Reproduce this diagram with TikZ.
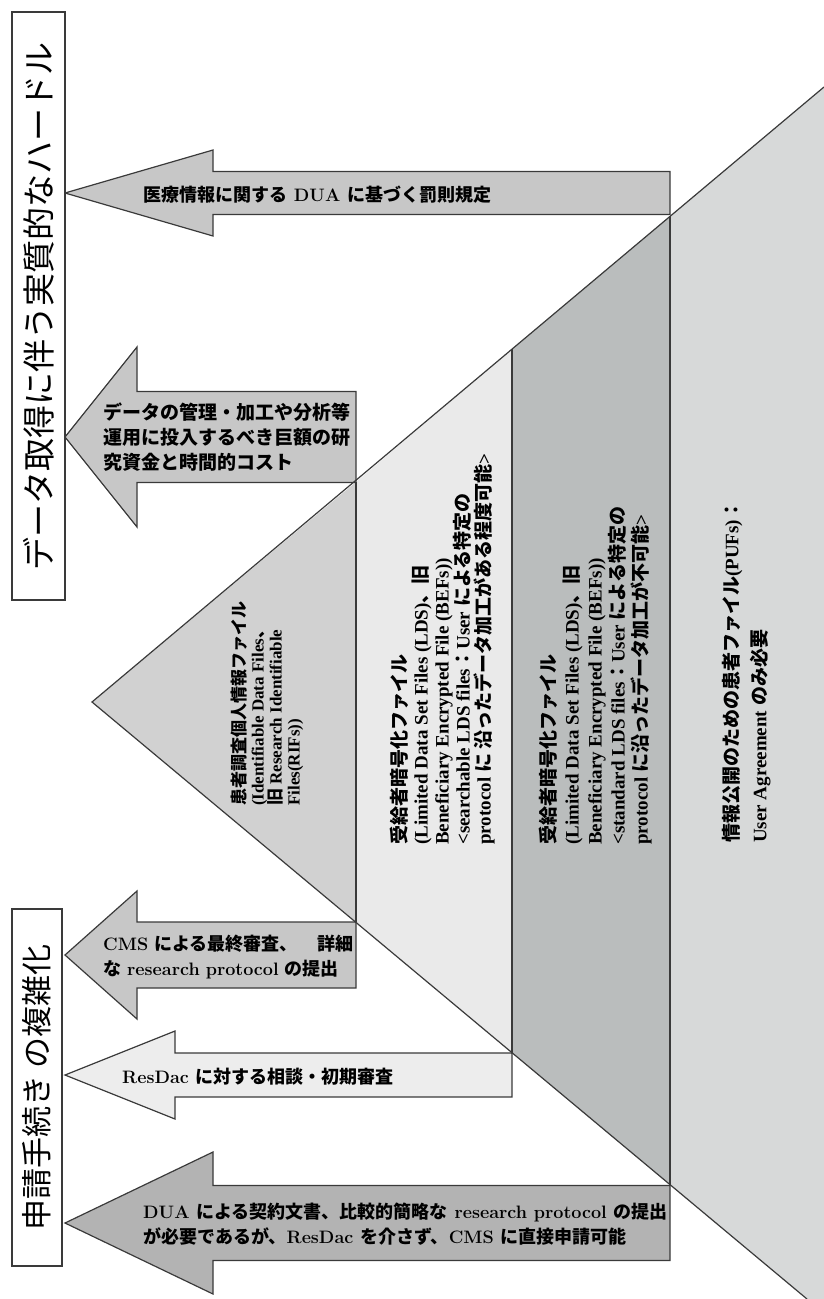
\documentclass[tikz,border=0pt]{standalone}
\usepackage{fontspec}
\newfontfamily\jp{Noto Sans CJK JP}
\newfontfamily\lser{Liberation Serif}
\newcommand\jj[1]{{\jp #1}}
\definecolor{linec}{HTML}{3A3A3A}
\definecolor{ctri}{HTML}{D1D1D1}
\definecolor{clight}{HTML}{EAEAEA}
\definecolor{cdark}{HTML}{BABDBD}
\definecolor{cpuf}{HTML}{D7D9D9}
\definecolor{carrow}{HTML}{C7C7C7}
\definecolor{carrowl}{HTML}{EDEDED}
\definecolor{carrowd}{HTML}{B3B3B3}
\tikzset{
  pedge/.style={draw=linec, line width=1.2pt},
  arrowshape/.style={draw=linec, line width=1.2pt, line join=miter},
  atext/.style={inner sep=0pt, anchor=west, align=left, font=\bfseries\fontsize{18}{25}\selectfont},
  ptext/.style={inner sep=0pt, rotate=90, anchor=north west, align=left, font=\lser\bfseries\fontsize{19}{22}\selectfont},
  titlebox/.style={draw=linec, line width=1.2pt, fill=white},
  ttext/.style={inner sep=0pt, rotate=90, font=\jp\fontsize{33}{33}\selectfont},
}
\newcommand\blockarrow[7]{%
  \draw[arrowshape, fill=#7] (#1,#2) -- (#3,{#2-#4}) -- (#3,{#2-#5}) -- (#6,{#2-#5})
     -- (#6,{#2+#5}) -- (#3,{#2+#5}) -- (#3,{#2+#4}) -- cycle;}
\begin{document}
\begin{tikzpicture}[x=1pt,y=-1pt]
\path[use as bounding box] (0,0) rectangle (824,1299);
% pyramid
\coordinate (A) at (92,702);
\coordinate (U1) at (356,482);
\coordinate (U2) at (512,349);
\coordinate (U3) at (670,216);
\coordinate (U4) at (824,87);
\coordinate (L1) at (356,922);
\coordinate (L2) at (512,1053);
\coordinate (L3) at (670,1185);
\coordinate (L4) at (807,1299);
\coordinate (C4) at (824,1299);
\fill[ctri] (A) -- (U1) -- (L1) -- cycle;
\fill[clight] (U1) -- (U2) -- (L2) -- (L1) -- cycle;
\fill[cdark] (U2) -- (U3) -- (L3) -- (L2) -- cycle;
\fill[cpuf] (U3) -- (U4) -- (C4) -- (L4) -- (L3) -- cycle;
% arrows
\blockarrow{65}{193}{213}{43}{21.5}{670}{carrow}
\blockarrow{65}{437}{137}{90}{45.5}{356}{carrow}
\blockarrow{65}{955}{137}{64}{33}{356}{carrow}
\blockarrow{65}{1075}{175}{44}{22}{512}{carrowl}
\blockarrow{65}{1223}{213}{71}{37.5}{670}{carrowd}
% pyramid outline
\draw[pedge] (U4) -- (A) -- (L4);
\draw[pedge] (U1) -- (L1);
\draw[pedge] (U2) -- (L2);
\draw[pedge] (U3) -- (L3);
% title boxes
\draw[titlebox] (12,12) rectangle (65,600);
\node[ttext] (t1) at (38.5,306) {データ取得に伴う実質的なハードル};
\draw[titlebox] (12,909) rectangle (62,1266);
\node[ttext, font=\jp\fontsize{31}{31}\selectfont] (t2) at (37,1087.5) {申請手続き の複雑化};
% arrow texts
\node[atext] (ta) at (143,195) {\jj{医療情報に関する} DUA \jj{に基づく罰則規定}};
\node[atext, font=\bfseries\fontsize{19}{25}\selectfont] (tb) at (103,437) {\jj{データの管理・加工や分析等}\\\jj{運用に投入するべき巨額の研}\\\jj{究資金と時間的コスト}};
\node[atext, text width=250pt] (tc) at (103,957) {CMS \jj{による最終審査、}\hfill\jj{詳細}\\\jj{な} research protocol \jj{の提出}};
\node[atext] (td) at (122,1077) {ResDac \jj{に対する相談・初期審査}};
\node[atext] (te) at (143,1224) {DUA \jj{による契約文書、比較的簡略な} research protocol \jj{の提出}\\\jj{が必要であるが、}ResDac \jj{を介さず、}CMS \jj{に直接申請可能}};
% pyramid texts
\node[ptext, font=\lser\bfseries\fontsize{17}{18}\selectfont] (p1) at (231,806) {\jj{患者調査個人情報ファイル}\\(Identifiable Data Files\jj{、}\\\jj{旧} Research Identifiable\\Files(RIFs))};
\node[ptext, font=\lser\bfseries\fontsize{19}{21}\selectfont] (p2) at (390,845) {\jj{受給者暗号化ファイル}\\(Limited Data Set Files (LDS)\jj{、旧}\\Beneficiary Encrypted File (BEFs))\\<searchable LDS files\jj{：}User \jj{による特定の}\\protocol \jj{に 沿ったデータ加工がある程度可能}>};
\node[ptext, font=\lser\bfseries\fontsize{19}{23}\selectfont] (p3) at (539,845) {\jj{受給者暗号化ファイル}\\(Limited Data Set Files (LDS)\jj{、旧}\\Beneficiary Encrypted File (BEFs))\\<standard LDS files\jj{：}User \jj{による特定の}\\protocol \jj{に沿ったデータ加工が不可能}>};
\node[ptext, font=\lser\bfseries\fontsize{19}{28}\selectfont] (p4) at (722,843) {\jj{情報公開のための患者ファイル}(PUFs)\jj{：}\\User Agreement \jj{のみ必要}};
\end{tikzpicture}
\end{document}
